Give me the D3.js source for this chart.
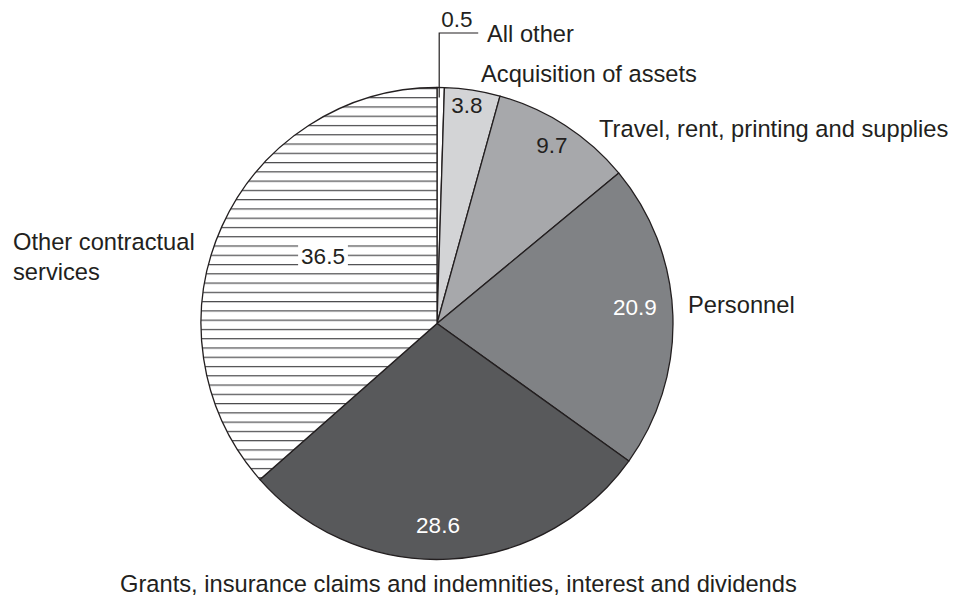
<!DOCTYPE html>
<html>
<head>
<meta charset="utf-8">
<script src="https://cdn.jsdelivr.net/npm/d3@7"></script>
<style>
  html, body { margin: 0; padding: 0; background: #ffffff; }
  svg { display: block; }
  text { font-family: "Liberation Sans", Arial, Helvetica, sans-serif; fill: #231f20; }
</style>
</head>
<body>
<script>
// ---- data ----
const categories = [
  "All other",
  "Acquisition of assets",
  "Travel, rent, printing and supplies",
  "Personnel",
  "Grants, insurance claims and indemnities, interest and dividends",
  "Other contractual services"
];
const values = [0.5, 3.8, 9.7, 20.9, 28.6, 36.5];
const valueLabels = ["0.5", "3.8", "9.7", "20.9", "28.6", "36.5"];

// ---- style / layout ----
const fills = ["#ffffff", "#d3d4d6", "#a7a8ab", "#808285", "#58595b", "url(#stripes)"];
const valueColors = ["#231f20", "#231f20", "#231f20", "#ffffff", "#ffffff", "#231f20"];
// value label offsets from pie centre (x centre, baseline)
const valuePos = [[20, -296.5], [30, -210.5], [115, -170.5], [198, -8.5], [1, 209.5], [-114, -59.5]];
// category label offsets from pie centre
const catPos = [
  { lines: ["All other"], dx: 50, dy: -281.5, anchor: "start" },
  { lines: ["Acquisition of assets"], dx: 44, dy: -241.5, anchor: "start" },
  { lines: ["Travel, rent, printing and supplies"], dx: 162, dy: -186.5, anchor: "start" },
  { lines: ["Personnel"], dx: 251, dy: -10.5, anchor: "start" },
  { lines: ["Grants, insurance claims and indemnities, interest and dividends"], dx: -317, dy: 268, anchor: "start" },
  { lines: ["Other contractual", "services"], dx: -424, dy: -73.5, anchor: "start" }
];

const W = 966, H = 598;
const cx = 437, cy = 323.5, R = 236;
const valueFont = 22.5, catFont = 23.7;

const svg = d3.select("body").append("svg").attr("width", W).attr("height", H);

const defs = svg.append("defs");
const stripeH = 9.27;
const pat = defs.append("pattern")
  .attr("id", "stripes")
  .attr("patternUnits", "userSpaceOnUse")
  .attr("width", 20).attr("height", stripeH)
  .attr("y", 5.36);
pat.append("rect").attr("width", 20).attr("height", stripeH).attr("fill", "#ffffff");
pat.append("line").attr("x1", 0).attr("x2", 20).attr("y1", 0.6).attr("y2", 0.6)
  .attr("stroke", "#4a4a4c").attr("stroke-width", 1.2);

const pie = d3.pie().sort(null).value(d => d)(values);
const arc = d3.arc().innerRadius(0).outerRadius(R);

const g = svg.append("g").attr("transform", `translate(${cx},${cy})`);
g.selectAll("path.slice").data(pie).enter().append("path")
  .attr("class", "slice")
  .attr("d", arc)
  .attr("fill", (d, i) => fills[i])
  .attr("stroke", "#231f20")
  .attr("stroke-width", 1.3)
  .attr("stroke-linejoin", "round");

// value labels
const vl = g.selectAll("g.vlab").data(pie).enter().append("g").attr("class", "vlab");
vl.each(function (d, i) {
  const sel = d3.select(this);
  const t = sel.append("text")
    .attr("x", valuePos[i][0]).attr("y", valuePos[i][1])
    .attr("text-anchor", "middle")
    .attr("font-size", valueFont)
    .style("fill", valueColors[i])
    .text(valueLabels[i]);
  if (fills[i].startsWith("url")) {
    const bb = t.node().getBBox();
    sel.insert("rect", "text")
      .attr("x", bb.x - 3).attr("y", bb.y + 1)
      .attr("width", bb.width + 6).attr("height", bb.height - 2)
      .attr("fill", "#ffffff");
  }
});

// leader line for the tiny slice
const tiny = pie[0];
const tinyMid = (tiny.startAngle + tiny.endAngle) / 2;
const lx = R * Math.sin(tinyMid) - 1.5;
g.append("polyline")
  .attr("points", [[lx, -R + 10], [lx, -290.5], [lx + 39, -290.5]].map(p => p.join(",")).join(" "))
  .attr("fill", "none").attr("stroke", "#231f20").attr("stroke-width", 1.2);

// category labels
catPos.forEach((c, i) => {
  const t = g.append("text")
    .attr("x", c.dx).attr("y", c.dy)
    .attr("text-anchor", c.anchor)
    .attr("font-size", catFont);
  c.lines.forEach((ln, k) => {
    t.append("tspan").attr("x", c.dx).attr("dy", k === 0 ? 0 : 30).text(ln);
  });
});
</script>
</body>
</html>
